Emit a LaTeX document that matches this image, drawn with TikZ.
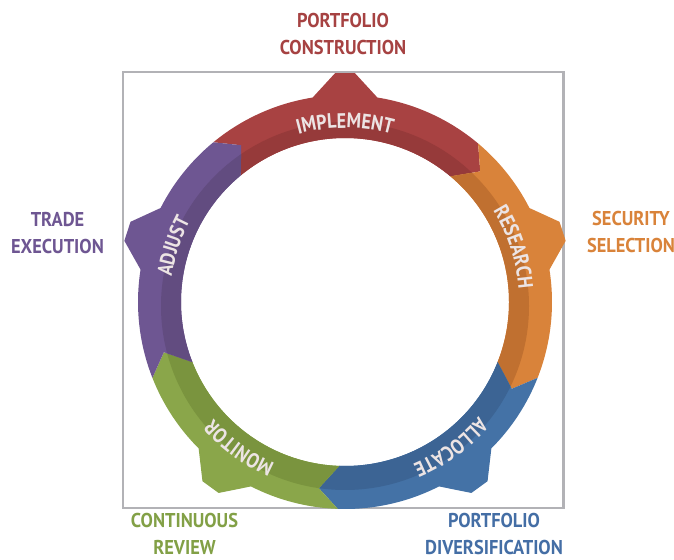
\documentclass[tikz,border=0pt]{standalone}
\usepackage{fontspec}
\newfontfamily\lab[FakeStretch=0.92]{PT Sans}
\newfontfamily\inlabfont[FakeStretch=0.86]{PT Sans}
\usetikzlibrary{decorations.text}
\definecolor{frameC}{RGB}{178,178,182}
\definecolor{redL}{RGB}{168,66,66}
\definecolor{redD}{RGB}{150,58,58}
\definecolor{orgL}{RGB}{217,131,58}
\definecolor{orgD}{RGB}{192,112,48}
\definecolor{bluL}{RGB}{68,114,166}
\definecolor{bluD}{RGB}{60,100,148}
\definecolor{grnL}{RGB}{138,166,74}
\definecolor{grnD}{RGB}{122,148,62}
\definecolor{purL}{RGB}{110,86,146}
\definecolor{purD}{RGB}{98,76,128}
\definecolor{redT}{RGB}{166,66,66}
\definecolor{orgT}{RGB}{217,131,58}
\definecolor{bluT}{RGB}{68,110,165}
\definecolor{grnT}{RGB}{130,160,70}
\definecolor{purT}{RGB}{110,86,146}
\definecolor{inT}{RGB}{236,228,228}
\newcommand\inlab{\fontsize{21}{21}\selectfont\inlabfont\bfseries\color{inT}}
\tikzset{
  outlab/.style={font=\lab\bfseries\fontsize{20}{27}\selectfont, align=center, inner sep=0pt},
  ringtext/.style={decorate, decoration={text along path, text align=center, text={#1}}}
}
\begin{document}
\begin{tikzpicture}[x=1pt,y=1pt]
\useasboundingbox (0,0) rectangle (674,559);
\draw[frameC, line width=2.6pt] (123,51) rectangle (563.5,487);
\begin{scope}[shift={(345,257)}]
\foreach \sa/\ea/\ca/\cl/\cd in {129.5/50/90/redL/redD, 50/-21.5/18/orgL/orgD, -21.5/-92/-54/bluL/bluD, -92/-158.5/-126/grnL/grnD, 201.5/129.5/162/purL/purD}{
  \fill[\cl] (\sa:207) arc[start angle=\sa, end angle=\ca+9, radius=207] -- ({\ca+2.5}:229) -- ({\ca-2.5}:229) -- ({\ca-9}:207) arc[start angle=\ca-9, end angle=\ea, radius=207] -- ({\ea-6}:188) -- (\ea:164) arc[start angle=\ea, end angle=\sa, radius=164] -- ({\sa-6}:188) -- cycle;
  \begin{scope}
    \clip (\sa:207) arc[start angle=\sa, end angle=\ca+9, radius=207] -- ({\ca+2.5}:229) -- ({\ca-2.5}:229) -- ({\ca-9}:207) arc[start angle=\ca-9, end angle=\ea, radius=207] -- ({\ea-6}:188) -- (\ea:164) arc[start angle=\ea, end angle=\sa, radius=164] -- ({\sa-6}:188) -- cycle;
    \fill[\cd] (0,-4) circle (184);
  \end{scope}
}
\path[ringtext={|\inlab|IMPLEMENT}] (130:174) arc[start angle=130, end angle=50, radius=174];
\path[ringtext={|\inlab|RESEARCH}] (58:174) arc[start angle=58, end angle=-22, radius=174];
\path[ringtext={|\inlab|ALLOCATE}] (-14:176) arc[start angle=-14, end angle=-94, radius=176];
\path[ringtext={|\inlab|MONITOR}] (-86:176) arc[start angle=-86, end angle=-166, radius=176];
\path[ringtext={|\inlab|ADJUST}] (202:175) arc[start angle=202, end angle=122, radius=175];
\end{scope}
\node[outlab, text=redT] (pc) at (343,525) {PORTFOLIO\\CONSTRUCTION};
\node[outlab, text=purT] (te) at (57.5,326) {TRADE\\EXECUTION};
\node[outlab, text=orgT] (ss) at (631,326.5) {SECURITY\\SELECTION};
\node[outlab, text=grnT] (cr) at (184.5,25) {CONTINUOUS\\REVIEW};
\node[outlab, text=bluT] (pd) at (494,25) {PORTFOLIO\\DIVERSIFICATION};
\end{tikzpicture}
\end{document}
